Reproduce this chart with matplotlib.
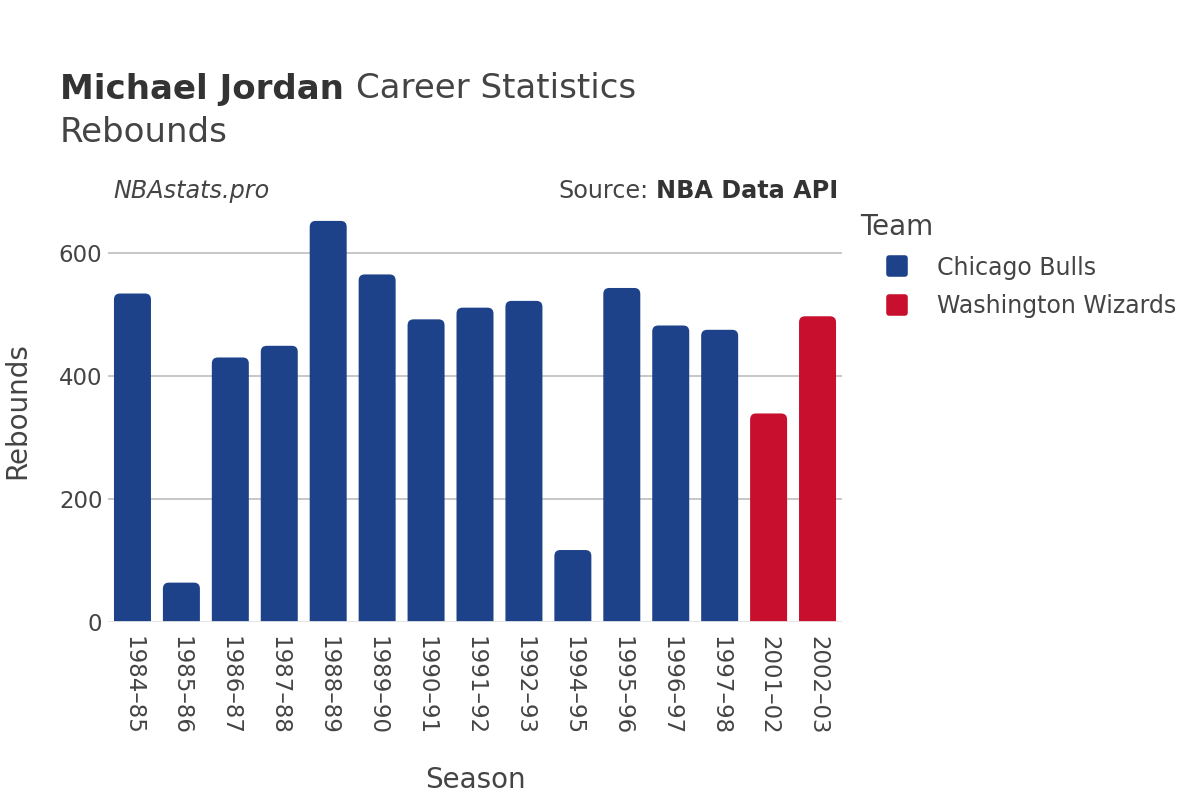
import matplotlib.pyplot as plt
from matplotlib.patches import FancyBboxPatch
from matplotlib.lines import Line2D
from matplotlib.markers import MarkerStyle

seasons = ["1984–85", "1985–86", "1986–87", "1987–88", "1988–89", "1989–90",
           "1990–91", "1991–92", "1992–93", "1994–95", "1995–96", "1996–97",
           "1997–98", "2001–02", "2002–03"]
rebounds = [534, 64, 430, 449, 652, 565, 492, 511, 522, 117, 543, 482, 475, 339, 497]
teams = ["Chicago Bulls"] * 13 + ["Washington Wizards"] * 2

team_colors = {"Chicago Bulls": "#1d428a", "Washington Wizards": "#c8102e"}
text_color = "#444444"

plt.rcParams["font.family"] = "DejaVu Sans"

fig = plt.figure(figsize=(12, 8), dpi=100)
ax_box = [108 / 1200, 0.2225, 734 / 1200, 0.5275]
ax = fig.add_axes(ax_box)

x = list(range(len(seasons)))
ymax = 686
ax.set_xlim(-0.5, len(seasons) - 0.5)
ax.set_ylim(0, ymax)

bars = ax.bar(x, rebounds, width=0.756, color=[team_colors[t] for t in teams])
# swap plain bars for ones with rounded top corners
x_per_px = len(seasons) / (ax_box[2] * 1200)
y_per_px = ymax / (ax_box[3] * 800)
for b, t in zip(bars, teams):
    b.set_visible(False)
    p = FancyBboxPatch((b.get_x(), -20), b.get_width(), b.get_height() + 20,
                       boxstyle="round,pad=0,rounding_size=%f" % (6 * x_per_px),
                       mutation_aspect=y_per_px / x_per_px,
                       facecolor=team_colors[t], edgecolor="none", zorder=3)
    ax.add_patch(p)

ax.set_yticks([0, 200, 400, 600])
ax.grid(axis="y", color="#bdbdbd", linewidth=1.2, zorder=0)
ax.axhline(0, color="#e8e8e8", linewidth=2, zorder=4)
for s in ax.spines.values():
    s.set_visible(False)
ax.tick_params(axis="both", length=0, labelsize=16.5, labelcolor=text_color)
ax.tick_params(axis="y", pad=4)
ax.tick_params(axis="x", pad=10)
ax.set_xticks(x)
ax.set_xticklabels(seasons, rotation=-90, va="top", ha="center")

ax.set_xlabel("Season", fontsize=20, color=text_color, labelpad=22)
ax.set_ylabel("Rebounds", fontsize=20, color=text_color, labelpad=20)

# title lines
t1 = fig.text(60 / 1200, 1 - 89 / 800, "Michael Jordan", fontsize=24.5, fontweight="bold",
              color="#333333", va="center", ha="left")
fig.canvas.draw()
bb = t1.get_window_extent()
fig.text((bb.x1 + 12) / 1200, 1 - 89 / 800, "Career Statistics", fontsize=24.5,
         color=text_color, va="center", ha="left")
fig.text(60 / 1200, 1 - 133 / 800, "Rebounds", fontsize=24.5,
         color=text_color, va="center", ha="left")

fig.text(113 / 1200, 1 - 191 / 800, "NBAstats.pro", fontsize=17.2, style="italic",
         color=text_color, va="center", ha="left")
fig.text(838 / 1200, 1 - 191 / 800, "NBA Data API", fontsize=17.2, fontweight="bold",
         color="#333333", va="center", ha="right")
fig.text(648 / 1200, 1 - 191 / 800, "Source:", fontsize=17.2,
         color=text_color, va="center", ha="right")

square = MarkerStyle("s", joinstyle="round")
handles = [Line2D([], [], linestyle="none", marker=square, markersize=12,
                  markerfacecolor=team_colors[t], markeredgecolor=team_colors[t],
                  markeredgewidth=4, label=t)
           for t in ["Chicago Bulls", "Washington Wizards"]]
leg = fig.legend(handles=handles, title="Team", loc="upper left",
                 bbox_to_anchor=(860 / 1200, 1 - 213 / 800), frameon=False,
                 fontsize=17, title_fontsize=20, handlelength=3.1,
                 handletextpad=0.15, labelspacing=0.62, borderaxespad=0,
                 borderpad=0)
leg._legend_box.align = "left"
for txt in leg.get_texts():
    txt.set_color(text_color)
leg.get_title().set_color(text_color)

fig.savefig("out.png", dpi=100)
